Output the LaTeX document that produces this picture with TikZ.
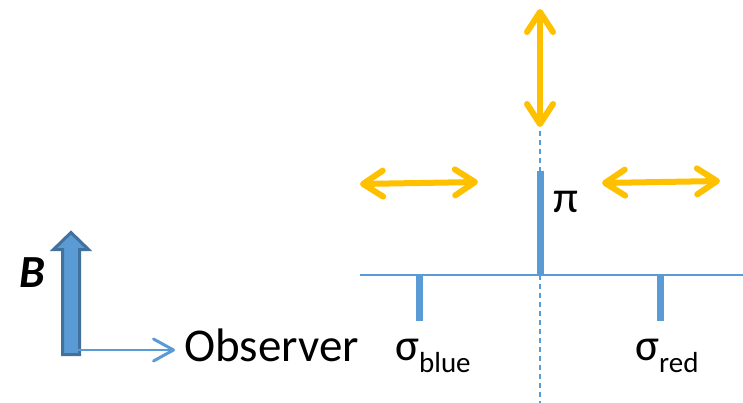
\documentclass[tikz,border=0pt]{standalone}
\usepackage{fontspec}
\setmainfont{Carlito}
\usetikzlibrary{arrows.meta}
\definecolor{lineblue}{RGB}{91,155,213}
\definecolor{darkblue}{RGB}{65,113,156}
\definecolor{gold}{RGB}{255,192,0}
\newcommand{\sub}[1]{\raisebox{-12pt}{\fontsize{29}{30}\selectfont #1}}

\begin{document}
\begin{tikzpicture}[x=1pt,y=-1pt,
  pol/.style={gold,line width=6pt,{Straight Barb[length=20pt,width=26pt,round]}-{Straight Barb[length=20pt,width=26pt,round]}},
  comp/.style={lineblue,line width=7pt},
  lbl/.style={inner sep=0pt,anchor=base west,font=\fontsize{45}{48}\selectfont}]
\useasboundingbox (0,0) rectangle (743,403);

% spectrum axis and line components
\draw[lineblue,line width=1.5pt,dash pattern=on 5pt off 4pt] (540,131) -- (540,403);
\draw[lineblue,line width=2pt] (360,275) -- (743,275);
\draw[comp] (540,171) -- (540,275);
\draw[comp] (419.5,275) -- (419.5,321);
\draw[comp] (660,275) -- (660,321);

\node[lbl] (pi) at (553,212) {π};
\node[lbl] (sblue) at (395,360) {σ\sub{blue}};
\node[lbl] (sred) at (635,360) {σ\sub{red}};

% polarisation directions
\coordinate (vtop) at (540,9);
\coordinate (vbot) at (540,127);
\coordinate (lleft) at (360,184);
\coordinate (lright) at (478,182);
\coordinate (rleft) at (602,183);
\coordinate (rright) at (720,181);
\draw[pol] (vtop) -- (vbot);
\draw[pol] (lleft) -- (lright);
\draw[pol] (rleft) -- (rright);

% field and line of sight
\filldraw[fill=lineblue,draw=darkblue,line width=3pt,line join=miter]
  (62.5,354.5) -- (62.5,249.5) -- (53.5,249.5) -- (71,232.5) -- (88.5,249.5)
  -- (79.5,249.5) -- (79.5,354.5) -- cycle;
\node[lbl,font=\fontsize{46}{48}\selectfont\bfseries\itshape] (B) at (19,287) {B};
\node[lbl,font=\fontsize{47}{50}\selectfont] (obs) at (184,361) {Observer};
\coordinate (los) at (70,350);
\coordinate (lostip) at (175,350);
\draw[lineblue,line width=2pt,-{Straight Barb[length=20pt,width=22pt,round,line width=3pt]}] (los) -- (lostip);
\end{tikzpicture}
\end{document}
